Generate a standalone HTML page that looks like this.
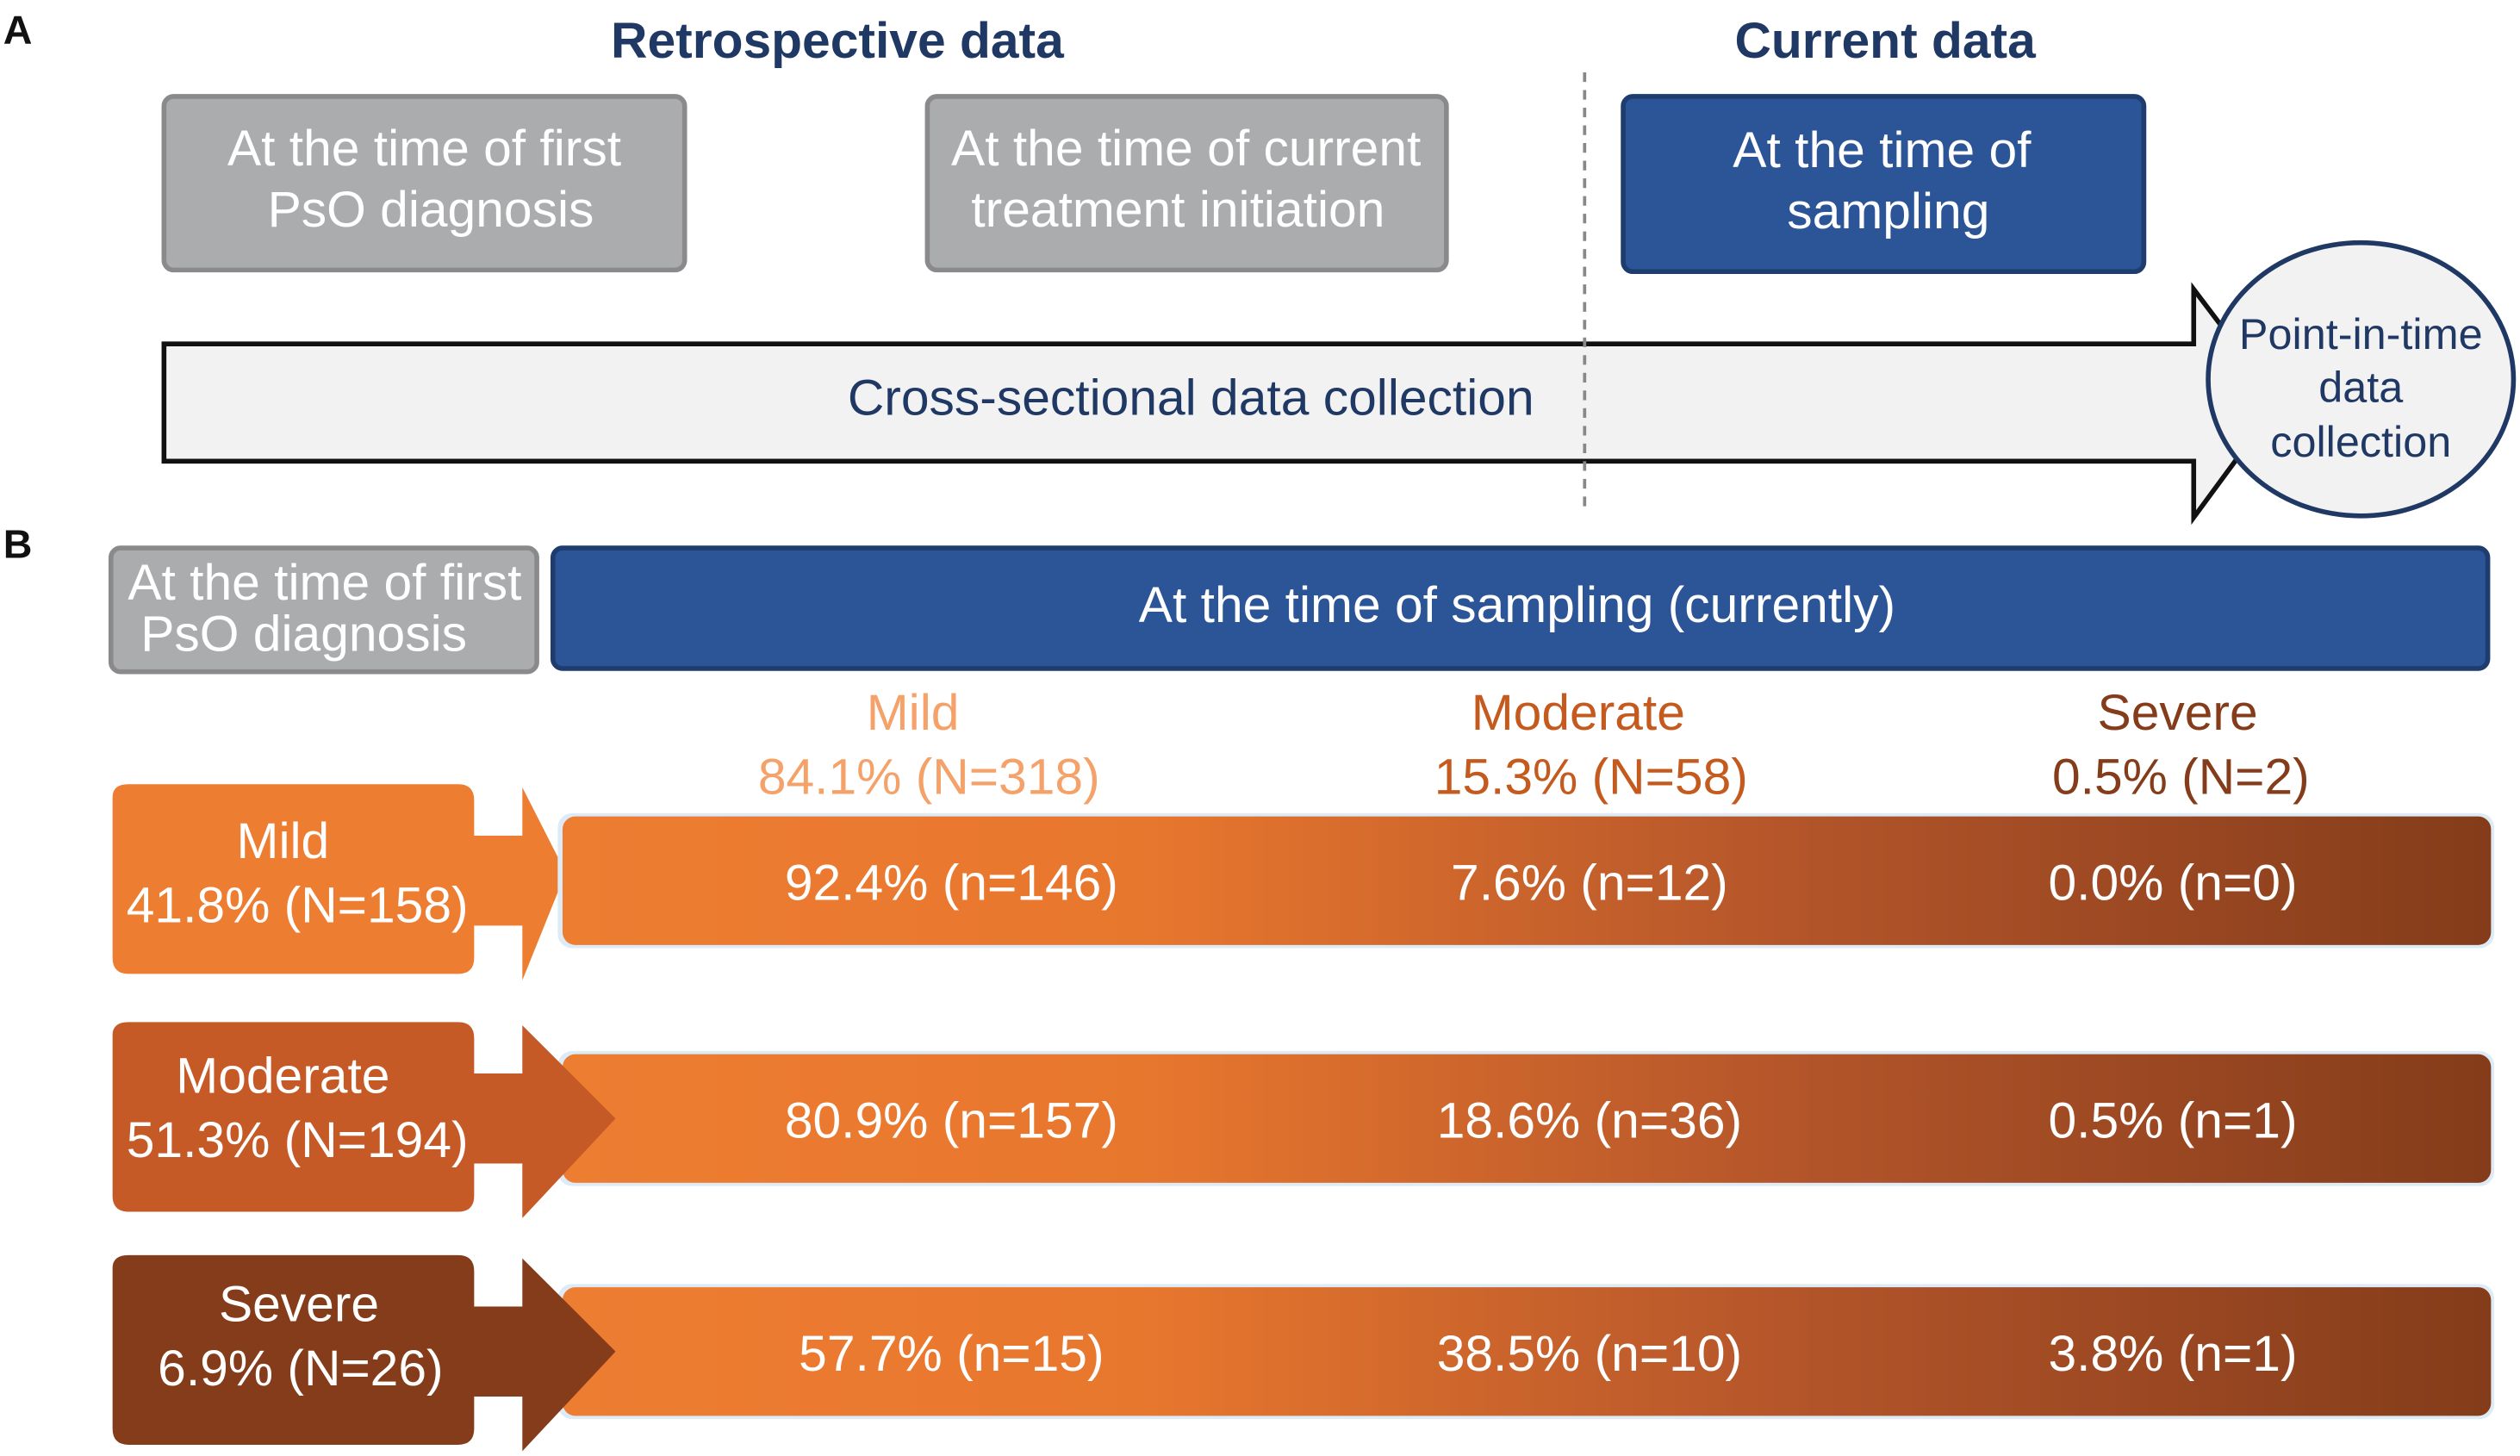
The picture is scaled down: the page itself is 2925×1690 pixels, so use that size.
<!DOCTYPE html>
<html><head><meta charset="utf-8"><style>
html,body{margin:0;padding:0;background:#fff}
svg{display:block;font-family:"Liberation Sans",sans-serif}
</style></head><body>
<svg id="fig" width="2925" height="1690" viewBox="0 0 1568 906">
<defs>
<linearGradient id="bargrad" x1="0" x2="1" y1="0" y2="0">
<stop offset="0" stop-color="#ED7D31"/><stop offset="0.3" stop-color="#E8772E"/><stop offset="0.65" stop-color="#B2542A"/><stop offset="1" stop-color="#843C1A"/>
</linearGradient>
</defs>
<text x="2" y="27" font-size="25" font-weight="bold" fill="#111">A</text>
<text x="2" y="347" font-size="25" font-weight="bold" fill="#111">B</text>
<text x="521" y="36" font-size="31.5" font-weight="bold" fill="#1F3864" text-anchor="middle">Retrospective data</text>
<text x="1173" y="36" font-size="31.5" font-weight="bold" fill="#1F3864" text-anchor="middle">Current data</text>
<g>
<rect x="102" y="60" width="324" height="108" rx="6" fill="#ABACAE" stroke="#8A8A8C" stroke-width="3"/>
<text x="264" y="103" font-size="31.5" fill="#fff" text-anchor="middle">At the time of first</text>
<text x="268" y="141" font-size="31.5" fill="#fff" text-anchor="middle">PsO diagnosis</text></g>
<g>
<rect x="577" y="60" width="323" height="108" rx="6" fill="#ABACAE" stroke="#8A8A8C" stroke-width="3"/>
<text x="738" y="103" font-size="31.5" fill="#fff" text-anchor="middle">At the time of current</text>
<text x="733" y="141" font-size="31.5" fill="#fff" text-anchor="middle">treatment initiation</text></g>
<g>
<rect x="1010" y="60" width="324" height="109" rx="6" fill="#2B5597" stroke="#1F3C6E" stroke-width="3"/>
<text x="1171" y="104" font-size="31.5" fill="#fff" text-anchor="middle">At the time of</text>
<text x="1175" y="142" font-size="31.5" fill="#fff" text-anchor="middle">sampling</text></g>
<path d="M102,214 H1365 V180 L1418,250 L1365,322 V287 H102 Z" fill="#F2F2F2" stroke="#111" stroke-width="3"/>
<text x="741" y="258" font-size="31.5" fill="#1F3864" text-anchor="middle">Cross-sectional data collection</text>
<line x1="986" y1="45" x2="986" y2="320" stroke="#888" stroke-width="2" stroke-dasharray="6,5"/>
<g>
<ellipse cx="1469" cy="236" rx="95" ry="85" fill="#F2F2F2" stroke="#1F3864" stroke-width="3"/>
<text x="1469" y="217" font-size="27" fill="#1F3864" text-anchor="middle">Point-in-time</text>
<text x="1469" y="250" font-size="27" fill="#1F3864" text-anchor="middle">data</text>
<text x="1469" y="284" font-size="27" fill="#1F3864" text-anchor="middle">collection</text></g>
<g>
<rect x="69" y="341" width="265" height="77" rx="6" fill="#ABACAE" stroke="#8A8A8C" stroke-width="3"/>
<text x="202" y="373" font-size="31.5" fill="#fff" text-anchor="middle">At the time of first</text>
<text x="189" y="405" font-size="31.5" fill="#fff" text-anchor="middle">PsO diagnosis</text></g>
<g>
<rect x="344" y="341" width="1204" height="75" rx="6" fill="#2B5597" stroke="#1F3C6E" stroke-width="3"/>
<text x="944" y="387" font-size="31.5" fill="#fff" text-anchor="middle">At the time of sampling (currently)</text></g>
<g id="rows"></g>
</svg>
<script>
const categories = ["Mild", "Moderate", "Severe"];
const baselinePct = ["41.8%", "51.3%", "6.9%"];
const baselineN = [158, 194, 26];
const currentPct = ["84.1%", "15.3%", "0.5%"];
const currentN = [318, 58, 2];
const cellPct = [["92.4%","7.6%","0.0%"],["80.9%","18.6%","0.5%"],["57.7%","38.5%","3.8%"]];
const cellN = [[146,12,0],[157,36,1],[15,10,1]];
const NS="http://www.w3.org/2000/svg";
const g=document.getElementById('rows');
const colX=[592,982,1352], headX=[[568,578],[982,990],[1355,1357]];
const headCol=["#F4A26A","#C55A1F","#843C1A"];
const boxCol=["#ED7D31","#C55A27","#843C1A"];
const rowY=[508,656,801];
function mk(t,a,txt){const e=document.createElementNS(NS,t);for(const k in a)e.setAttribute(k,a[k]);if(txt!==undefined)e.textContent=txt;g.appendChild(e);return e;}
categories.forEach((c,i)=>{
  let e=mk('text',{x:headX[i][0],y:454,'font-size':31.5,fill:headCol[i],'text-anchor':'middle'},c);
  
  
  e=mk('text',{x:headX[i][1],y:494,'font-size':31.5,fill:headCol[i],'text-anchor':'middle'},currentPct[i]+" (N="+currentN[i]+")");
  
  
});
categories.forEach((c,r)=>{
  const y=rowY[r];
  const cy=y+40, by=y-20;
  const tip = r===0?352:383;
  const dArrow=`M70,${by+8} Q70,${by} 80,${by} H285 Q295,${by} 295,${by+10} V${cy-28} H325 V${cy-58} L${tip},${cy+(r===0?-5:0)} L325,${cy+62} V${cy+28} H295 V${by+108} Q295,${by+118} 285,${by+118} H80 Q70,${by+118} 70,${by+108} Z`;
  if(r===0){
    const p=mk('path',{d:dArrow,fill:boxCol[r]});
    
    
  }
  let b=mk('rect',{x:347,y:y-2,width:1205,height:84,rx:9,fill:'#DDEBF7'});
  
  
  b=mk('rect',{x:350,y:y,width:1200,height:80,rx:8,fill:'url(#bargrad)'});
  
  
  if(r!==0){
    const p=mk('path',{d:dArrow,fill:boxCol[r]});
    
    
  }
  const dy = r===2?-5:(r===1?-2:0);
  let t=mk('text',{x:r===2?186:176,y:by+46+dy,'font-size':31.5,fill:'#fff','text-anchor':'middle'},c);
  
  
  t=mk('text',{x:r===2?187:185,y:by+86+dy,'font-size':31.5,fill:'#fff','text-anchor':'middle'},baselinePct[r]+" (N="+baselineN[r]+")");
  
  
  cellPct[r].forEach((v,k)=>{
    const tt=mk('text',{x:colX[k]+(k===1?7:0),y:cy+12,'font-size':31.5,fill:'#fff','text-anchor':'middle'},v+" (n="+cellN[r][k]+")");
    
    
  });
});
</script>
</body></html>
